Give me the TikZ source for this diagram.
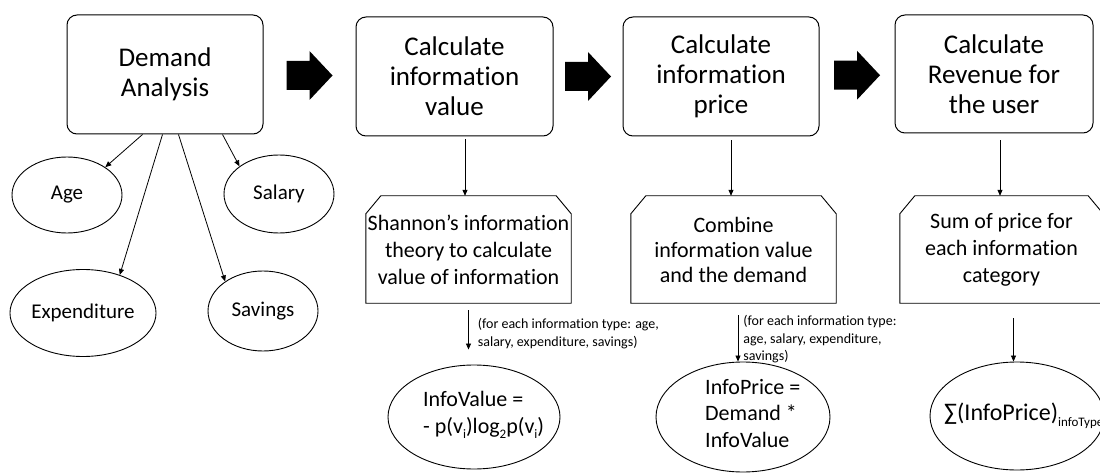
\documentclass[tikz,border=0pt]{standalone}
\usepackage{fontspec}
\setmainfont{Carlito}[Ligatures={NoCommon}]
\usetikzlibrary{arrows.meta,shapes.geometric,calc}

% lowered small text for indices
\newcommand\dn[1]{\raisebox{-0.25em}{\fontsize{13}{13}\selectfont #1}}
% box outline with the two upper corners cut off
\newcommand\snipframe[1]{%
  \draw[line width=0.9pt] ([yshift=-18pt]#1.north west) -- ([xshift=15pt]#1.north west)
    -- ([xshift=-15pt]#1.north east) -- ([yshift=-18pt]#1.north east)
    -- (#1.south east) -- (#1.south west) -- cycle;}

\begin{document}
\begin{tikzpicture}[x=1pt,y=-1pt,
  headbox/.style={draw, line width=1pt, rounded corners=10pt, minimum width=196pt,
    minimum height=119pt, align=center, inner sep=0pt, font=\fontsize{27}{30}\selectfont},
  snipbox/.style={minimum width=205pt, minimum height=107pt, align=center,
    inner sep=0pt, font=\fontsize{22}{27}\selectfont},
  oval/.style={draw, ellipse, line width=0.9pt, inner sep=0pt, font=\fontsize{21}{25}\selectfont},
  formula/.style={align=left, inner sep=0pt, anchor=west, font=\fontsize{22}{26.5}\selectfont},
  note/.style={align=left, inner sep=0pt, anchor=west, font=\fontsize{14}{17.5}\selectfont},
  link/.style={-{Triangle[length=6pt,width=5pt]}, line width=0.8pt},
  bigarrow/.pic={\fill[black] (-23,-14.5) -- (0,-14.5) -- (0,-24.5) -- (23,0)
    -- (0,24.5) -- (0,14.5) -- (-23,14.5) -- cycle;}]

\clip (0,0) rectangle (1100,473);
\fill[white] (0,0) rectangle (1100,473);

% main steps
\node[headbox] (dem) at (165,74.5) {Demand\\Analysis};
\node[headbox, minimum width=197pt] (val) at (454.5,76.5) {Calculate\\information\\value};
\node[headbox] (pri) at (721,76.5) {Calculate\\information\\price};
\node[headbox, minimum width=198pt, minimum height=118pt] (rev) at (994,74) {Calculate\\Revenue for\\the user};

\pic at ($(dem.east)!0.5!(val.west)$) {bigarrow};
\pic at ($(val.east)!0.5!(pri.west)$) {bigarrow};
\pic at ($(pri.east)!0.5!(rev.west)$) {bigarrow};

% demand attributes
\node[oval, minimum width=110pt, minimum height=76pt] (age) at (67,195) {Age};
\node[oval, minimum width=110pt, minimum height=78pt] (sal) at (279,194) {Salary};
\node[oval, minimum width=113pt, minimum height=87pt] (exp) at (83,313) {Expenditure};
\node[oval, minimum width=110pt, minimum height=80pt] (sav) at (263,311) {Savings};

\draw[link] ([xshift=76pt]dem.south west) -- (age.36);
\draw[link] ([xshift=96pt]dem.south west) -- (exp.46);
\draw[link] ([xshift=112pt]dem.south west) -- (sav.142);
\draw[link] ([xshift=156pt]dem.south west) -- (sal.145);

% methods
\node[snipbox] (shn) at (468.5,249.5) {Shannon’s information\\theory to calculate\\value of information};
\node[snipbox, font=\fontsize{22}{25}\selectfont] (cmb) at (733.5,249.5) {Combine\\information value\\and the demand};
\node[snipbox, minimum width=203pt] (sum) at (1001.5,249.5) {Sum of price for\\each information\\category};
\snipframe{shn}
\snipframe{cmb}
\snipframe{sum}

\draw[link] ([xshift=10.5pt,yshift=-3pt]val.south) -- ([xshift=10.5pt]val.south |- shn.north);
\draw[link] ([xshift=10pt,yshift=-4pt]pri.south) -- ([xshift=10pt]pri.south |- cmb.north);
\draw[link] ([xshift=6pt,yshift=-7pt]rev.south) -- ([xshift=6pt]rev.south |- sum.north);

% results
\node[oval, minimum width=172pt, minimum height=104pt] (iv) at (474,417) {};
\node[oval, minimum width=174pt, minimum height=110pt] (ip) at (743,417) {};
\node[oval, minimum width=174pt, minimum height=108pt] (sm) at (1017,416) {};

\node[formula] (ivt) at (423,415) {InfoValue =\\- p(v\dn{i})log\dn{2}p(v\dn{i})};
\node[formula] (ipt) at (705,413.5) {InfoPrice =\\Demand *\\InfoValue};
\node[formula, font=\fontsize{24}{28}\selectfont] (smt) at (944,416) {∑(InfoPrice)\dn{infoType}};

\coordinate (ivin) at ([yshift=15pt]iv.north);
\draw[link] ([yshift=-7pt]shn.south) -- (shn.south |- ivin)
  node[note, midway, xshift=9pt, yshift=-3.5pt] {(for each information type: age,\\salary, expenditure, savings)};
\draw[link] ([xshift=4.5pt,yshift=-12pt]cmb.south) -- ([xshift=4.5pt]cmb.south |- ip.north)
  node[note, midway, xshift=5pt, yshift=-1pt] {(for each information type:\\age, salary, expenditure,\\savings)};
\draw[link] ([xshift=12pt,yshift=-15pt]sum.south) -- ([xshift=12pt]sum.south |- sm.north);

\end{tikzpicture}
\end{document}
